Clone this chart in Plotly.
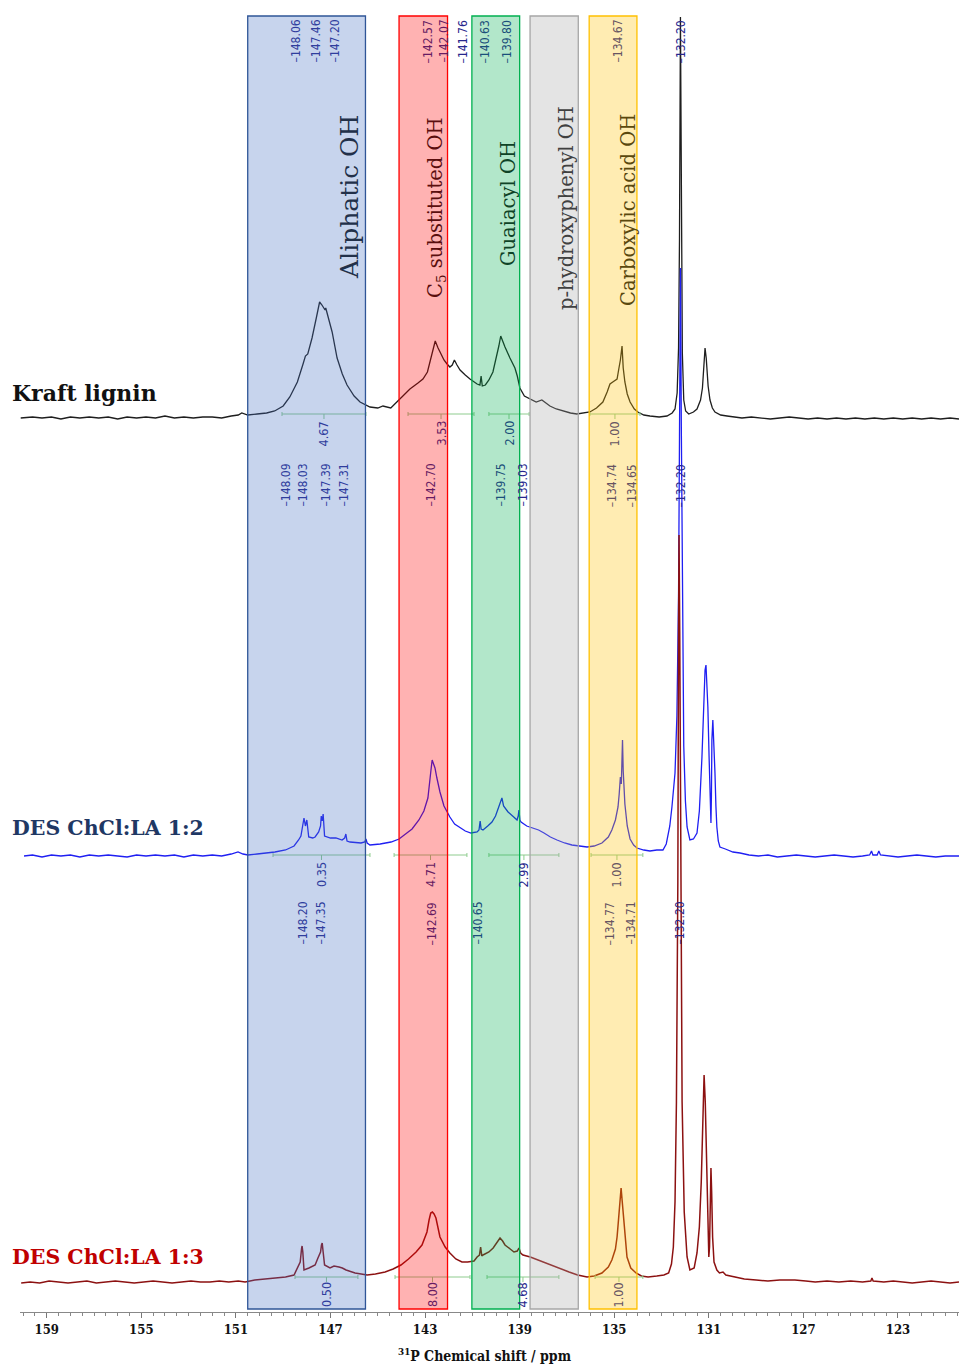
import plotly.graph_objects as go

# ---------------- data (ppm, relative intensity) ----------------
KRAFT = [
    (160.10, 0), (159.6, 1), (159.2, 0), (158.8, 1), (158.4, -1), (158.0, 1), (157.6, 0), (157.2, 1),
    (156.8, 0), (156.4, 1), (156.0, -1), (155.6, 1), (155.2, 0), (154.8, 1), (154.4, 0), (154.0, 2),
    (153.6, 0), (153.2, 1), (152.8, 0), (152.4, 1), (152.0, 1), (151.6, 0), (151.2, 2), (150.9, 3),
    (150.75, 5), (150.5, 3), (150.1, 4), (149.7, 5), (149.36, 7), (149.0, 12), (148.72, 21), (148.4, 36),
    (148.16, 54), (148.06, 62), (147.96, 64), (147.78, 80), (147.6, 100), (147.46, 116), (147.36, 113),
    (147.23, 108), (147.20, 110), (147.08, 100), (146.93, 86), (146.72, 60), (146.50, 44), (146.30, 33),
    (146.0, 22), (145.75, 16), (145.33, 11), (145.0, 10), (144.78, 12), (144.45, 10), (144.19, 16),
    (143.9, 22), (143.64, 29), (143.3, 35), (143.09, 39), (142.9, 46), (142.79, 56), (142.65, 68),
    (142.57, 77), (142.45, 70), (142.37, 66), (142.20, 58), (142.07, 54), (141.95, 51), (141.85, 53),
    (141.76, 58), (141.65, 53), (141.52, 48), (141.30, 43), (141.10, 39), (140.80, 34), (140.68, 33),
    (140.63, 42), (140.58, 32), (140.45, 33), (140.30, 38), (140.13, 46), (139.96, 62), (139.88, 72),
    (139.80, 82), (139.70, 75), (139.62, 71), (139.41, 60), (139.20, 50), (139.10, 42), (138.99, 30),
    (138.80, 22), (138.56, 19), (138.30, 16), (138.06, 18), (137.90, 15), (137.72, 12), (137.45, 9),
    (137.17, 7), (136.85, 5), (136.58, 4), (136.30, 5), (136.03, 6), (135.75, 10), (135.48, 16),
    (135.30, 26), (135.18, 34), (135.00, 37), (134.88, 39), (134.80, 50), (134.74, 58), (134.67, 72),
    (134.62, 50), (134.55, 36), (134.45, 24), (134.33, 16), (134.15, 9), (134.00, 6), (133.75, 3),
    (133.49, 2), (133.10, 1), (132.77, 2), (132.55, 5), (132.43, 9), (132.34, 25), (132.28, 70),
    (132.24, 180), (132.20, 401), (132.16, 180), (132.12, 65), (132.06, 18), (131.98, 7), (131.85, 4),
    (131.65, 6), (131.50, 9), (131.35, 18), (131.27, 30), (131.20, 52), (131.16, 70), (131.11, 60),
    (131.03, 32), (130.95, 18), (130.85, 10), (130.74, 6), (130.50, 3), (130.23, 2), (129.9, 1),
    (129.6, 0), (129.2, 1), (128.8, 0), (128.4, -1), (128.0, 0), (127.6, 1), (127.2, 0), (126.8, -1),
    (126.4, 0), (126.0, -1), (125.6, 0), (125.2, -1), (124.8, 0), (124.4, -1), (124.0, 0), (123.6, -1),
    (123.2, 0), (122.8, -1), (122.4, 0), (122.0, -1), (121.6, 0), (121.2, -1), (120.8, 0), (120.42, -1),
]

DES12 = [
    (159.96, 0), (159.6, 1), (159.2, -1), (158.8, 1), (158.4, 0), (158.0, 1), (157.6, -1), (157.2, 1),
    (156.8, 0), (156.4, 1), (156.0, 0), (155.6, -1), (155.2, 1), (154.8, 0), (154.4, 1), (154.0, 0),
    (153.6, 1), (153.2, -1), (152.8, 1), (152.4, 0), (152.0, 1), (151.6, 0), (151.2, 2), (150.91, 4),
    (150.7, 2), (150.49, 1), (150.1, 2), (149.7, 3), (149.35, 4), (148.9, 6), (148.54, 10), (148.35, 16),
    (148.25, 20), (148.12, 38), (148.06, 30), (148.00, 36), (147.92, 19), (147.75, 18), (147.65, 19),
    (147.50, 24), (147.42, 30), (147.39, 40), (147.35, 35), (147.31, 42), (147.25, 20), (147.0, 18),
    (146.77, 18), (146.51, 16), (146.40, 18), (146.35, 22), (146.30, 15), (146.17, 14), (145.90, 13),
    (145.71, 13), (145.55, 14), (145.50, 17), (145.45, 13), (145.33, 11), (144.9, 12), (144.44, 14),
    (144.1, 17), (143.89, 21), (143.55, 27), (143.26, 36), (143.05, 45), (142.88, 58), (142.80, 72),
    (142.75, 86), (142.70, 96), (142.64, 92), (142.58, 88), (142.50, 78), (142.37, 64), (142.2, 50),
    (141.95, 39), (141.75, 32), (141.57, 29), (141.3, 25), (141.06, 23), (140.80, 24), (140.72, 26),
    (140.67, 35), (140.63, 27), (140.55, 26), (140.35, 30), (140.17, 34), (140.02, 40), (139.92, 46),
    (139.82, 54), (139.75, 58), (139.68, 50), (139.49, 44), (139.25, 39), (139.11, 36), (139.06, 40),
    (139.03, 46), (138.99, 36), (138.94, 34), (138.70, 30), (138.48, 28), (138.2, 26), (137.97, 23),
    (137.70, 19), (137.42, 16), (137.1, 13), (136.79, 11), (136.45, 10), (136.15, 9), (135.85, 10),
    (135.52, 13), (135.25, 19), (135.10, 26), (134.95, 36), (134.84, 49), (134.79, 62), (134.74, 79),
    (134.70, 72), (134.67, 100), (134.65, 116), (134.62, 85), (134.55, 52), (134.45, 30), (134.33, 17),
    (134.18, 11), (134.04, 8), (133.75, 6), (133.49, 5), (133.2, 6), (132.94, 6), (132.80, 12),
    (132.73, 19), (132.65, 30), (132.56, 49), (132.43, 83), (132.35, 140), (132.28, 260), (132.24, 420),
    (132.20, 588), (132.16, 420), (132.12, 240), (132.06, 110), (131.99, 55), (131.92, 29), (131.80, 16),
    (131.65, 17), (131.50, 23), (131.40, 45), (131.29, 99), (131.21, 166), (131.16, 186), (131.12, 191),
    (131.08, 175), (131.04, 149), (130.99, 100), (130.95, 66), (130.91, 33), (130.89, 60), (130.87, 116),
    (130.83, 136), (130.79, 118), (130.74, 83), (130.70, 50), (130.66, 29), (130.60, 15), (130.53, 9),
    (130.3, 7), (129.98, 4), (129.68, 3), (129.3, 1), (128.9, 0), (128.5, 1), (128.1, -1), (127.7, 0),
    (127.3, 1), (126.9, 0), (126.5, -1), (126.1, 0), (125.7, 1), (125.3, 0), (124.9, -1), (124.5, 0),
    (124.2, 1), (124.12, 5), (124.06, 1), (123.88, 1), (123.81, 5), (123.74, 1), (123.4, 0), (123.0, -1),
    (122.6, 0), (122.2, 1), (121.8, 0), (121.4, -1), (121.0, 0), (120.42, 0),
]

DES13 = [
    (160.08, -1), (159.7, 0), (159.3, -1), (158.9, 1), (158.5, 0), (158.1, -1), (157.7, 0), (157.3, 1),
    (156.9, -1), (156.5, 0), (156.1, 1), (155.7, 0), (155.3, -1), (154.9, 0), (154.5, 1), (154.1, 0),
    (153.7, -1), (153.3, 0), (152.9, 1), (152.5, 0), (152.1, 0), (151.7, 1), (151.3, 0), (150.9, 1),
    (150.61, 0), (150.2, 2), (149.8, 3), (149.35, 4), (148.9, 5), (148.54, 7), (148.37, 15), (148.28, 20),
    (148.22, 34), (148.20, 36), (148.17, 30), (148.12, 12), (147.91, 14), (147.65, 17), (147.53, 24),
    (147.42, 30), (147.38, 37), (147.35, 39), (147.31, 30), (147.25, 17), (147.02, 14), (146.85, 16),
    (146.64, 15), (146.50, 14), (146.34, 12), (146.2, 11), (145.96, 9), (145.7, 8), (145.45, 7),
    (145.1, 8), (144.69, 10), (144.35, 13), (144.02, 17), (143.7, 23), (143.38, 30), (143.13, 37),
    (142.92, 50), (142.83, 62), (142.76, 69), (142.69, 70), (142.62, 68), (142.54, 64), (142.45, 54),
    (142.37, 45), (142.15, 35), (141.95, 29), (141.70, 23), (141.44, 20), (141.2, 20), (140.93, 21),
    (140.80, 25), (140.70, 27), (140.65, 35), (140.60, 26), (140.55, 27), (140.30, 30), (140.12, 34),
    (139.96, 40), (139.83, 44), (139.72, 41), (139.62, 37), (139.40, 33), (139.24, 30), (139.10, 31),
    (139.03, 34), (138.96, 29), (138.86, 27), (138.55, 25), (138.22, 22), (137.95, 19), (137.72, 17),
    (137.3, 13), (136.91, 10), (136.55, 7), (136.15, 5), (135.85, 6), (135.52, 9), (135.25, 15),
    (135.10, 22), (134.95, 33), (134.88, 45), (134.82, 62), (134.77, 79), (134.74, 86), (134.71, 94),
    (134.66, 80), (134.60, 62), (134.55, 45), (134.46, 25), (134.30, 14), (134.08, 9), (133.85, 6),
    (133.57, 5), (133.2, 6), (132.90, 7), (132.70, 9), (132.58, 18), (132.50, 35), (132.43, 80),
    (132.37, 180), (132.31, 400), (132.28, 650), (132.26, 747), (132.23, 650), (132.19, 400),
    (132.13, 180), (132.04, 70), (131.92, 25), (131.80, 12), (131.62, 14), (131.50, 29), (131.40, 55),
    (131.32, 100), (131.26, 160), (131.20, 207), (131.15, 180), (131.10, 120), (131.05, 55), (131.00, 25),
    (130.97, 35), (130.94, 80), (130.91, 114), (130.88, 90), (130.84, 45), (130.78, 20), (130.66, 12),
    (130.55, 9), (130.40, 10), (130.28, 7), (130.1, 6), (129.90, 5), (129.5, 3), (129.0, 2), (128.5, 1),
    (128.0, 2), (127.36, 2), (126.9, 1), (126.5, 0), (126.0, 1), (125.5, 0), (125.0, 1), (124.5, 0),
    (124.15, 1), (124.10, 4), (124.05, 1), (123.6, 0), (123.2, 1), (122.8, 0), (122.4, -1), (122.0, 0),
    (121.6, 1), (121.2, 0), (120.8, -1), (120.42, 0),
]

SPECTRUM_NAMES = ["Kraft lignin", "DES ChCl:LA 1:2", "DES ChCl:LA 1:3"]

REGION_NAMES = ["Aliphatic OH", "C<sub>5</sub> substituted OH", "Guaiacyl OH",
                "p-hydroxyphenyl OH", "Carboxylic acid OH"]
REGION_BOUNDS = [(150.50, 145.52), (144.10, 142.05), (141.02, 139.00), (138.56, 136.52), (136.06, 134.04)]

KRAFT_PEAKS = ["148.06", "147.46", "147.20", "142.57", "142.07", "141.76", "140.63", "139.80", "134.67", "132.20"]
DES12_PEAKS = ["148.09", "148.03", "147.39", "147.31", "142.70", "139.75", "139.03", "134.74", "134.65", "132.20"]
DES13_PEAKS = ["148.20", "147.35", "142.69", "140.65", "134.77", "134.71", "132.20"]

KRAFT_INTEGRALS = ["4.67", "3.53", "2.00", "1.00"]
DES12_INTEGRALS = ["0.35", "4.71", "2.99", "1.00"]
DES13_INTEGRALS = ["0.50", "8.00", "4.68", "1.00"]
KRAFT_INT_RANGES = [(149.05, 145.50), (143.72, 140.93), (140.30, 138.60), (136.03, 133.91)]
DES12_INT_RANGES = [(149.43, 145.33), (144.31, 141.23), (140.30, 137.34), (135.98, 133.79)]
DES13_INT_RANGES = [(148.50, 145.84), (144.27, 141.10), (140.38, 137.34), (135.81, 133.79)]

X_TICK_LABELS = [159, 155, 151, 147, 143, 139, 135, 131, 127, 123]

# ---------------- layout / style ----------------
X_RANGE = [160.13, 120.42]
Y_RANGE = [0, 1312]
OFFSETS = [894, 456, 30]                 # stacking offsets of the three spectra
LINE_COLORS = ["#1e1e1e", "#1f1ff2", "#8c1111"]
LINE_WIDTHS = [1.3, 1.3, 1.5]
NAME_COLORS = ["#111111", "#1f3864", "#c00000"]
NAME_Y = [919, 484, 55]
NAME_SIZE = [22, 20.5, 20.5]

REGION_RGB = [(68, 114, 196), (255, 0, 0), (0, 176, 80), (166, 166, 166), (255, 192, 0)]
REGION_EDGE = ["#2f5597", "#ff0000", "#00b050", "#a6a6a6", "#ffc000"]
REGION_ALPHA = 0.3
REGION_Y = (3, 1296)
REGION_LABEL_X = [146.22, 142.54, 139.49, 137.04, 134.42]
REGION_LABEL_Y = [1115, 1104, 1108, 1104, 1102]
REGION_LABEL_SIZE = [25, 19.5, 19.5, 19.5, 19.5]

KRAFT_LABEL_X = [148.50, 147.65, 146.85, 142.88, 142.24, 141.40, 140.47, 139.54, 134.88, 132.18]
DES12_LABEL_X = [148.92, 148.20, 147.23, 146.47, 142.79, 139.83, 138.90, 135.10, 134.25, 132.18]
DES13_LABEL_X = [148.20, 147.44, 142.71, 140.80, 135.18, 134.33, 132.26]
PEAK_LABEL_TOP = [1294, 850, 412]
INT_LINE_Y = [898, 457, 35]
INT_LABEL_TOP = [893, 452, 32]

LABEL_BASE = (38, 38, 140)
TITLE_BASE = (20, 20, 20)
NARROW = "Liberation Sans Narrow, DejaVu Sans Condensed, Arial Narrow, sans-serif"
SERIF = "DejaVu Serif, Liberation Serif, serif"
SERIF_C = "DejaVu Serif Condensed, DejaVu Serif, serif"


def region_of(ppm):
    for i, (a, b) in enumerate(REGION_BOUNDS):
        if b <= ppm <= a:
            return i
    return None


def tinted(base, ppm):
    i = region_of(ppm)
    if i is None:
        return "rgb(%d,%d,%d)" % base
    c = REGION_RGB[i]
    return "rgb(%d,%d,%d)" % tuple(round((1 - REGION_ALPHA) * base[k] + REGION_ALPHA * c[k]) for k in range(3))


fig = go.Figure()

# spectra
for data, off, col, lw in zip([KRAFT, DES12, DES13], OFFSETS, LINE_COLORS, LINE_WIDTHS):
    xs = [p for p, _ in data]
    ys = [v + off for _, v in data]
    fig.add_trace(go.Scatter(x=xs, y=ys, mode="lines", line=dict(color=col, width=lw),
                             hoverinfo="skip", showlegend=False))

# integral bars
for ranges, ly in zip([KRAFT_INT_RANGES, DES12_INT_RANGES, DES13_INT_RANGES], INT_LINE_Y):
    xs, ys = [], []
    for a, b in ranges:
        c = (a + b) / 2
        xs += [a, a, None, a, b, None, b, b, None, c, c, None]
        ys += [ly + 2, ly - 2, None, ly, ly, None, ly + 2, ly - 2, None, ly, ly - 5, None]
    fig.add_trace(go.Scatter(x=xs, y=ys, mode="lines", line=dict(color="#8fcc8f", width=1),
                             hoverinfo="skip", showlegend=False))

shapes = []
for (a, b), rgb, edge in zip(REGION_BOUNDS, REGION_RGB, REGION_EDGE):
    shapes.append(dict(type="rect", xref="x", yref="y", x0=a, x1=b, y0=REGION_Y[0], y1=REGION_Y[1],
                       fillcolor="rgb(%d,%d,%d)" % rgb, opacity=REGION_ALPHA, line=dict(width=0),
                       layer="above"))
    shapes.append(dict(type="rect", xref="x", yref="y", x0=a, x1=b, y0=REGION_Y[0], y1=REGION_Y[1],
                       fillcolor="rgba(0,0,0,0)", line=dict(color=edge, width=1.3), layer="above"))

ann = []
# region titles
for name, x, y, s in zip(REGION_NAMES, REGION_LABEL_X, REGION_LABEL_Y, REGION_LABEL_SIZE):
    ann.append(dict(x=x, y=y, xref="x", yref="y", text=name, showarrow=False, textangle=-90,
                    font=dict(family=SERIF, size=s, color=tinted(TITLE_BASE, x)),
                    xanchor="center", yanchor="middle"))

# peak labels
for peaks, xs, top in zip([KRAFT_PEAKS, DES12_PEAKS, DES13_PEAKS],
                          [KRAFT_LABEL_X, DES12_LABEL_X, DES13_LABEL_X], PEAK_LABEL_TOP):
    for t, x in zip(peaks, xs):
        ann.append(dict(x=x, y=top, xref="x", yref="y", text="\u2013" + t, showarrow=False,
                        textangle=-90, font=dict(family=NARROW, size=12, color=tinted(LABEL_BASE, x)),
                        xanchor="center", yanchor="top"))

# integral values
for vals, ranges, top in zip([KRAFT_INTEGRALS, DES12_INTEGRALS, DES13_INTEGRALS],
                             [KRAFT_INT_RANGES, DES12_INT_RANGES, DES13_INT_RANGES], INT_LABEL_TOP):
    for t, (a, b) in zip(vals, ranges):
        c = (a + b) / 2
        ann.append(dict(x=c, y=top, xref="x", yref="y", text=t, showarrow=False, textangle=-90,
                        font=dict(family=NARROW, size=12.5, color=tinted(LABEL_BASE, c)),
                        xanchor="center", yanchor="top"))

# spectrum names
for name, y, col, s in zip(SPECTRUM_NAMES, NAME_Y, NAME_COLORS, NAME_SIZE):
    ann.append(dict(x=-0.0106, y=y, xref="paper", yref="y", text=name, showarrow=False,
                    font=dict(family=SERIF, size=s, color=col, weight="bold"),
                    xanchor="left", yanchor="middle"))

# axis title
ann.append(dict(x=0.495, y=-0.0328, xref="paper", yref="paper",
                text="<sup>31</sup>P Chemical shift / ppm", showarrow=False,
                font=dict(family=SERIF_C, size=14, color="#111111", weight="bold"),
                xanchor="center", yanchor="middle"))

fig.update_layout(
    width=959, height=1366,
    margin=dict(l=20, r=0, t=0, b=54),
    paper_bgcolor="white", plot_bgcolor="white",
    shapes=shapes, annotations=ann, showlegend=False,
    xaxis=dict(range=X_RANGE, tickmode="array", tickvals=X_TICK_LABELS,
               ticktext=[str(v) for v in X_TICK_LABELS],
               ticks="outside", ticklen=5, tickcolor="#777777", tickwidth=1,
               showline=True, linecolor="#888888", linewidth=1, showgrid=False, zeroline=False,
               tickfont=dict(family=SERIF_C, size=13, color="#111111", weight="bold"),
               minor=dict(tickmode="linear", tick0=0, dtick=0.5, ticks="outside", ticklen=3,
                          tickcolor="#888888", showgrid=False)),
    xaxis2=dict(range=X_RANGE, overlaying="x", anchor="y", side="bottom", tickmode="linear",
                tick0=0, dtick=1, ticks="outside", ticklen=5, tickcolor="#777777",
                showticklabels=False, showline=False, showgrid=False, zeroline=False),
    yaxis=dict(range=Y_RANGE, visible=False, fixedrange=True),
)

fig.write_html("out.html", config={"displayModeBar": False},
               post_script="document.body.style.margin='0';")
